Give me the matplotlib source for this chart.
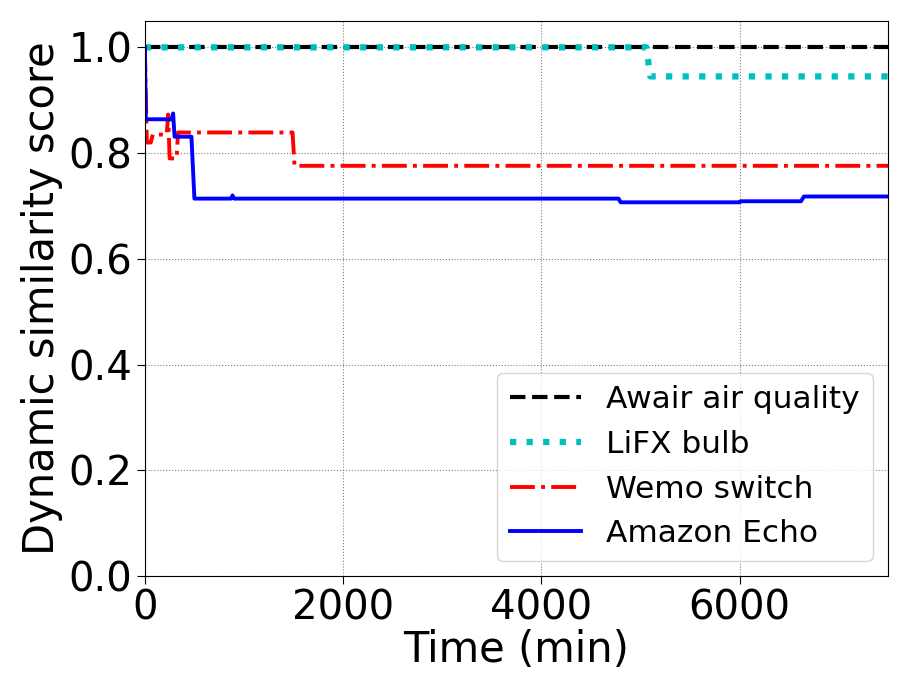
import matplotlib
matplotlib.use("Agg")
import matplotlib.pyplot as plt

awair_t = [0, 7500]
awair_s = [1.0, 1.0]

lifx_t = [0, 5060, 5100, 7500]
lifx_s = [1.0, 1.0, 0.945, 0.945]

wemo_t = [0, 20, 60, 80, 220, 235, 250, 320, 335, 1490, 1510, 7500]
wemo_s = [1.0, 0.82, 0.82, 0.835, 0.835, 0.873, 0.79, 0.79, 0.839, 0.839, 0.776, 0.776]

echo_t = [0, 10, 270, 285, 300, 470, 500, 870, 885, 900,
          4780, 4800, 6000, 6010, 6620, 6650, 7500]
echo_s = [1.0, 0.864, 0.864, 0.875, 0.831, 0.831, 0.714, 0.714, 0.72, 0.714,
          0.714, 0.707, 0.707, 0.709, 0.709, 0.718, 0.718]

fig = plt.figure(figsize=(9.11, 6.96), dpi=100)
ax = fig.add_axes([0.159, 0.172, 0.816, 0.798])

ax.plot(awair_t, awair_s, 'k--', lw=3, label='Awair air quality')
ax.plot(lifx_t, lifx_s, color='c', ls=':', lw=4.5, label='LiFX bulb')
ax.plot(wemo_t, wemo_s, 'r-.', lw=2.8, label='Wemo switch')
ax.plot(echo_t, echo_s, 'b-', lw=2.8, label='Amazon Echo')

ax.set_xlim(0, 7500)
ax.set_ylim(0, 1.05)
ax.set_xticks([0, 2000, 4000, 6000])
ax.set_yticks([0.0, 0.2, 0.4, 0.6, 0.8, 1.0])
ax.tick_params(labelsize=29, length=6, pad=3)
ax.grid(True, ls=':', color='gray', lw=0.8)
ax.set_xlabel('Time (min)', fontsize=30, labelpad=0)
ax.set_ylabel('Dynamic similarity score', fontsize=30, labelpad=4)
ax.legend(loc='lower right', fontsize=22.5, handlelength=2.3)

fig.savefig('out.png', dpi=100)
